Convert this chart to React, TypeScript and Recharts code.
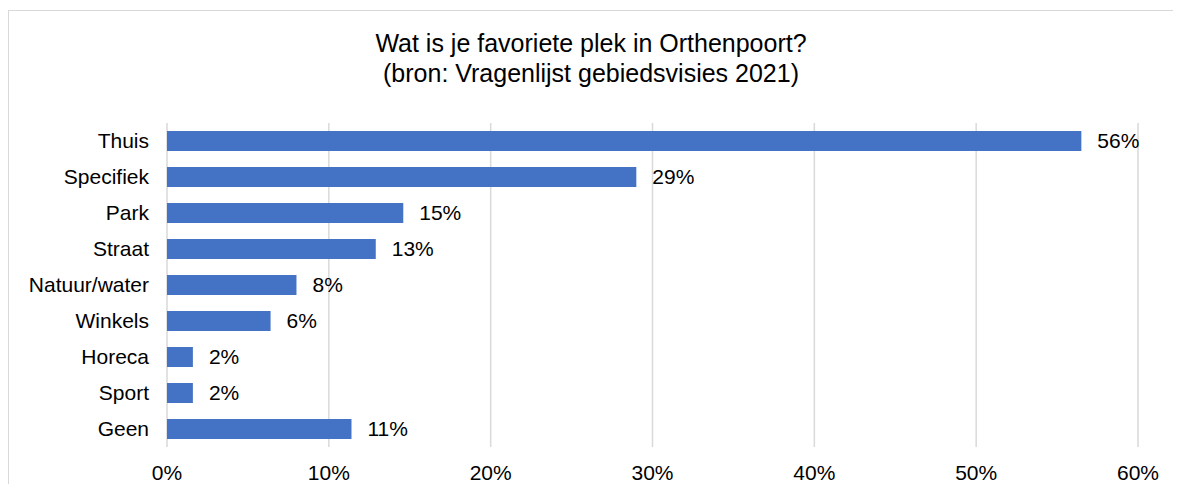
import { BarChart, Bar, XAxis, YAxis, CartesianGrid, LabelList } from 'recharts';

const categories = ['Thuis', 'Specifiek', 'Park', 'Straat', 'Natuur/water', 'Winkels', 'Horeca', 'Sport', 'Geen'];
const shares = [0.565, 0.29, 0.146, 0.129, 0.08, 0.064, 0.016, 0.016, 0.114];
const xTicks = [0, 0.1, 0.2, 0.3, 0.4, 0.5, 0.6];

const data = categories.map((name, i) => ({ name, value: shares[i] }));

const pct = (v: number) => `${Math.round(v * 100)}%`;

const font = 'Arial, "Liberation Sans", sans-serif';

export default function App() {
  return (
    <div style={{ position: 'relative', width: 1173, height: 476, overflow: 'hidden', fontFamily: font }}>
      {/* chart frame: only top and left edges are on the page */}
      <div
        style={{
          position: 'absolute',
          top: 2,
          left: 0,
          width: 1173,
          height: 474,
          borderTop: '1px solid #d9d9d9',
          borderLeft: '1px solid #d9d9d9',
        }}
      />
      <div
        style={{
          position: 'absolute',
          top: 20,
          left: 0,
          width: 1166,
          textAlign: 'center',
          fontSize: 25,
          lineHeight: '30px',
          color: '#000',
        }}
      >
        Wat is je favoriete plek in Orthenpoort?
        <br />
        (bron: Vragenlijst gebiedsvisies 2021)
      </div>
      <div style={{ position: 'absolute', top: 0, left: 0 }}>
        <BarChart
          width={1173}
          height={476}
          data={data}
          layout="vertical"
          margin={{ top: 115, right: 43, bottom: 0, left: 0 }}
          barCategoryGap={16}
        >
          <CartesianGrid horizontal={false} stroke="#d9d9d9" strokeWidth={1.5} />
          <XAxis
            type="number"
            domain={[0, 0.6]}
            ticks={xTicks}
            tickFormatter={pct}
            axisLine={false}
            tickLine={false}
            tickMargin={12}
            height={37}
            tick={{ fontSize: 21, fill: '#000', fontFamily: font }}
          />
          <YAxis
            type="category"
            dataKey="name"
            width={159}
            axisLine={false}
            tickLine={false}
            tickMargin={12}
            interval={0}
            tick={{ fontSize: 21, fill: '#000', fontFamily: font }}
          />
          <Bar dataKey="value" fill="#4472C4" barSize={20} isAnimationActive={false}>
            <LabelList
              dataKey="value"
              position="right"
              offset={16}
              formatter={(v: any) => pct(Number(v))}
              style={{ fontSize: 21, fill: '#000', fontFamily: font }}
            />
          </Bar>
        </BarChart>
      </div>
    </div>
  );
}
